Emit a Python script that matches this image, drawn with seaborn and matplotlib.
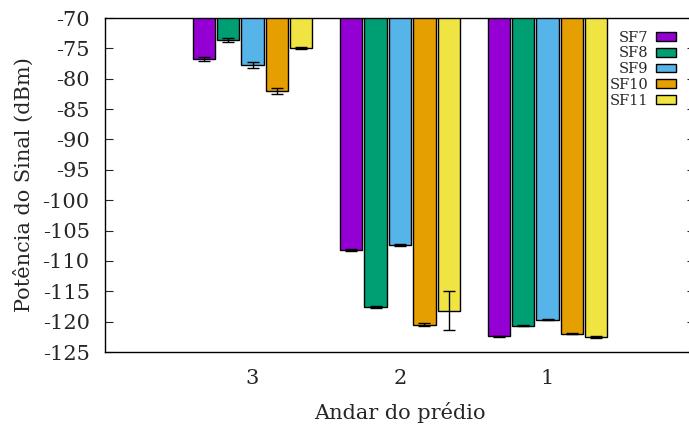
import matplotlib
matplotlib.use('Agg')
import matplotlib.pyplot as plt
import seaborn as sns
import pandas as pd
import numpy as np

# Dados
andares = ['3', '2', '1']
fatores = ['SF7', 'SF8', 'SF9', 'SF10', 'SF11']
potencia = {
    'SF7':  [-76.8, -108.2, -122.4],
    'SF8':  [-73.6, -117.6, -120.7],
    'SF9':  [-77.8, -107.4, -119.7],
    'SF10': [-82.0, -120.5, -122.0],
    'SF11': [-74.9, -118.2, -122.5],
}
erro = {
    'SF7':  [0.3, 0.2, 0.1],
    'SF8':  [0.3, 0.2, 0.1],
    'SF9':  [0.5, 0.2, 0.1],
    'SF10': [0.5, 0.2, 0.1],
    'SF11': [0.2, 3.2, 0.2],
}
cores = ['#9400d3', '#009e73', '#56b4e9', '#e69f00', '#f0e442']

linhas = []
for sf in fatores:
    for i, andar in enumerate(andares):
        linhas.append({'Andar': andar, 'SF': sf, 'Potencia': potencia[sf][i], 'Erro': erro[sf][i]})
df = pd.DataFrame(linhas)

sns.set_style('white')
plt.rcParams['font.family'] = ['DejaVu Serif']
plt.rcParams['axes.unicode_minus'] = False

fig = plt.figure(figsize=(6.89, 4.28), dpi=100)
ax = fig.add_axes([105 / 689, 76 / 428, 590 / 689, 334 / 428])

sns.barplot(data=df, x='Andar', y='Potencia', hue='SF', order=andares, hue_order=fatores,
            palette=cores, saturation=1, width=0.83, gap=0.1, edgecolor='black', linewidth=1,
            errorbar=None, ax=ax)

# Barras de erro nas posições das barras desenhadas
for cont, sf in zip(ax.containers, fatores):
    xs = [p.get_x() + p.get_width() / 2 for p in cont.patches]
    ax.errorbar(xs, potencia[sf], yerr=erro[sf], fmt='none', ecolor='black',
                elinewidth=1, capsize=4, capthick=1)

ax.set_xlim(-1, 3)
ax.set_ylim(-125, -70)
ax.set_yticks(np.arange(-125, -69, 5))
ax.tick_params(axis='y', direction='in', length=6, left=True, right=True, labelsize=15, pad=11)
ax.tick_params(axis='x', length=0, labelsize=15, pad=12.5)
for s in ax.spines.values():
    s.set_visible(True)
    s.set_color('black')
    s.set_linewidth(1)

ax.set_xlabel('Andar do prédio', fontsize=15, labelpad=10)
ax.set_ylabel('Potência do Sinal (dBm)', fontsize=15, labelpad=6)

ax.legend(loc='upper right', bbox_to_anchor=(0.968, 0.962), markerfirst=False, frameon=False,
          fontsize=10.5, handlelength=1.4, handleheight=0.55, labelspacing=0.12,
          handletextpad=0.5, borderpad=0, borderaxespad=0)

fig.savefig('out.png', dpi=100)
